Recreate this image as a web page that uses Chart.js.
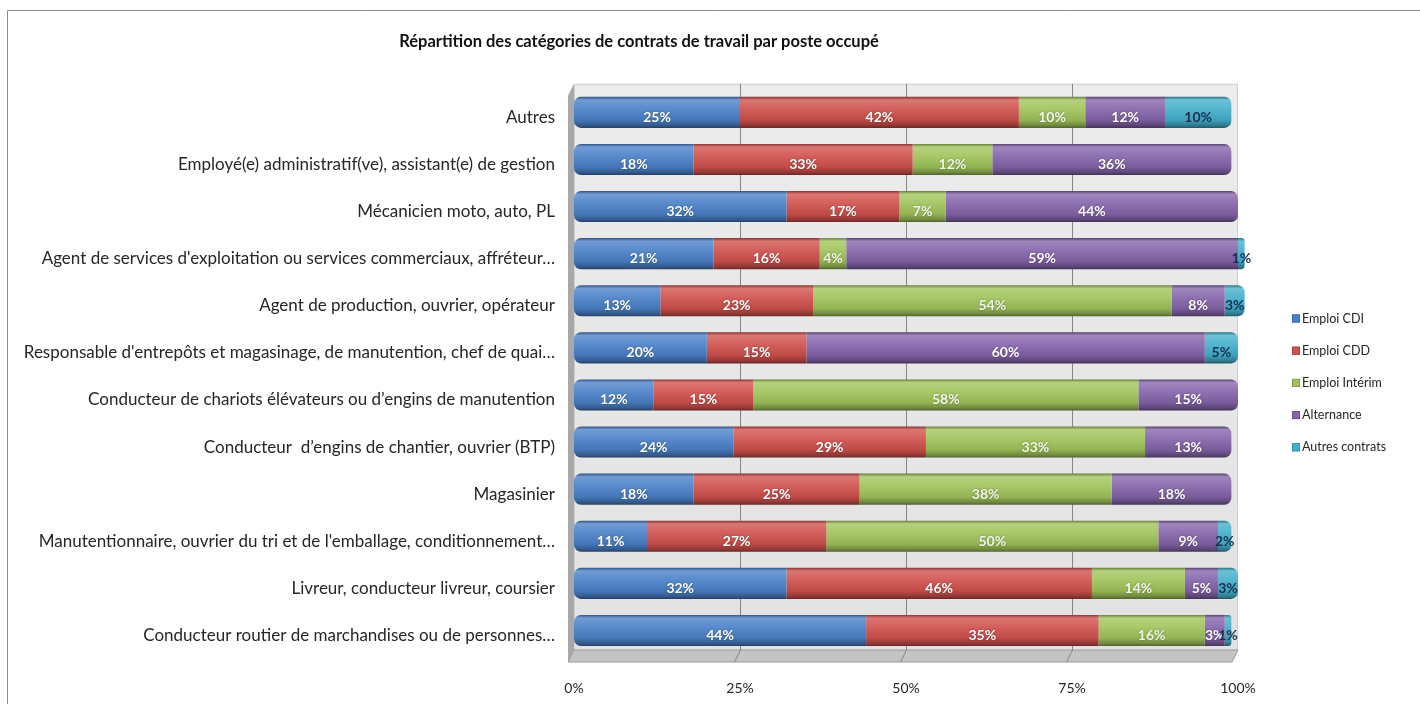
<!DOCTYPE html>
<html lang="fr">
<head>
<meta charset="utf-8">
<title>Répartition des catégories de contrats de travail par poste occupé</title>
<script src="https://cdn.jsdelivr.net/npm/chart.js@4.4.1/dist/chart.umd.min.js"></script>
<style>
  html, body { margin: 0; padding: 0; background: #ffffff; }
  #wrap { position: relative; width: 1420px; height: 704px; }
</style>
</head>
<body>
<div id="wrap"><canvas id="chart" width="1420" height="704"></canvas></div>
<script>
// Postes occupés (du haut vers le bas)
const categories = [
  'Autres',
  'Employé(e) administratif(ve), assistant(e) de gestion',
  'Mécanicien moto, auto, PL',
  "Agent de services d'exploitation ou services commerciaux, affréteur…",
  'Agent de production, ouvrier, opérateur',
  "Responsable d'entrepôts et magasinage, de manutention, chef de quai…",
  'Conducteur de chariots élévateurs ou d’engins de manutention',
  'Conducteur  d’engins de chantier, ouvrier (BTP)',
  'Magasinier',
  "Manutentionnaire, ouvrier du tri et de l'emballage, conditionnement…",
  'Livreur, conducteur livreur, coursier',
  'Conducteur routier de marchandises ou de personnes…'
];

// Part de chaque type de contrat, en %
const seriesNames = ['Emploi CDI', 'Emploi CDD', 'Emploi Intérim', 'Alternance', 'Autres contrats'];
const emploiCDI      = [25, 18, 32, 21, 13, 20, 12, 24, 18, 11, 32, 44];
const emploiCDD      = [42, 33, 17, 16, 23, 15, 15, 29, 25, 27, 46, 35];
const emploiInterim  = [10, 12,  7,  4, 54,  0, 58, 33, 38, 50, 14, 16];
const alternance     = [12, 36, 44, 59,  8, 60, 15, 13, 18,  9,  5,  3];
const autresContrats = [10,  0,  0,  1,  3,  5,  0,  0,  0,  2,  3,  1];
const seriesValues = [emploiCDI, emploiCDD, emploiInterim, alternance, autresContrats];

const xTickValues = [0, 25, 50, 75, 100];

const seriesColors = ['#4a80c8', '#d0504c', '#a0c45a', '#8564ab', '#44afcc'];
const labelColors  = ['#ffffff', '#ffffff', '#f4f8ea', '#ffffff', '#14304f'];

const FONT = 'Lato, "Open Sans", sans-serif';
const BAR_FRACTION = 0.66;

// lighten (amt > 0) or darken (amt < 0) a hex colour
function shade(hex, amt) {
  const n = parseInt(hex.slice(1), 16);
  let r = (n >> 16) & 255, g = (n >> 8) & 255, b = n & 255;
  const f = c => amt >= 0 ? Math.round(c + (255 - c) * amt) : Math.round(c * (1 + amt));
  return `rgb(${f(r)},${f(g)},${f(b)})`;
}

// cylinder-like vertical shading for each bar
function barFill(ctx) {
  const base = seriesColors[ctx.datasetIndex];
  const chart = ctx.chart;
  const ys = chart.scales && chart.scales.y;
  if (!ys || ctx.dataIndex === undefined || !ys.height) return base;
  const cy = ys.getPixelForValue(ctx.dataIndex);
  const half = ys.height / categories.length * BAR_FRACTION / 2;
  const g = chart.ctx.createLinearGradient(0, cy - half, 0, cy + half);
  g.addColorStop(0.00, shade(base, -0.35));
  g.addColorStop(0.10, shade(base, 0.22));
  g.addColorStop(0.35, shade(base, 0.10));
  g.addColorStop(0.75, shade(base, -0.08));
  g.addColorStop(0.92, shade(base, -0.30));
  g.addColorStop(1.00, shade(base, -0.50));
  return g;
}

// round only the outer ends of each stacked row
function barRadius(ctx) {
  const i = ctx.dataIndex, d = ctx.datasetIndex;
  if (i === undefined) return 0;
  const nonZero = seriesValues.map(s => s[i] > 0);
  const first = nonZero.indexOf(true);
  const last = nonZero.lastIndexOf(true);
  const r = 7;
  return {
    topLeft: d === first ? r : 0, bottomLeft: d === first ? r : 0,
    topRight: d === last ? r : 0, bottomRight: d === last ? r : 0
  };
}

// let the long category labels run into the left margin
const wideLabels = {
  id: 'wideLabels',
  afterLayout(chart) {
    chart.scales.y.left = 0;
  }
};

// back wall, side wall, floor and gridlines of the plot box
const plotBox = {
  id: 'plotBox',
  beforeDraw(chart) {
    const { ctx, chartArea: a, scales: { x } } = chart;
    ctx.save();
    ctx.fillStyle = '#ffffff';
    ctx.fillRect(0, 0, chart.width, chart.height);
    // outer frame
    ctx.strokeStyle = '#8c8c8c';
    ctx.lineWidth = 1;
    ctx.beginPath();
    ctx.moveTo(7.5, chart.height + 5);
    ctx.lineTo(7.5, 10.5);
    ctx.lineTo(chart.width + 5, 10.5);
    ctx.stroke();

    const wt = a.top - 5, wb = a.bottom - 4, dx = 6, dy = 12;
    // back wall
    const wg = ctx.createLinearGradient(0, wt, 0, wb);
    wg.addColorStop(0, '#ececec');
    wg.addColorStop(1, '#e2e2e2');
    ctx.fillStyle = wg;
    ctx.fillRect(a.left, wt, a.right - a.left, wb - wt);
    ctx.strokeStyle = '#d0d0d0';
    ctx.strokeRect(a.left + 0.5, wt + 0.5, a.right - a.left - 1, wb - wt);

    // left side wall
    ctx.fillStyle = '#a8a8a8';
    ctx.beginPath();
    ctx.moveTo(a.left, wt);
    ctx.lineTo(a.left, wb);
    ctx.lineTo(a.left - dx, wb + dy);
    ctx.lineTo(a.left - dx, wt + dy);
    ctx.closePath();
    ctx.fill();

    // floor
    ctx.fillStyle = '#c4c4c4';
    ctx.beginPath();
    ctx.moveTo(a.left, wb);
    ctx.lineTo(a.right, wb);
    ctx.lineTo(a.right - dx, wb + dy);
    ctx.lineTo(a.left - dx, wb + dy);
    ctx.closePath();
    ctx.fill();
    ctx.strokeStyle = '#9a9a9a';
    ctx.stroke();

    // gridlines on wall and floor
    ctx.strokeStyle = '#858585';
    ctx.lineWidth = 1;
    xTickValues.forEach(v => {
      if (v === 0 || v === 100) return;
      const px = Math.round(x.getPixelForValue(v)) + 0.5;
      ctx.beginPath();
      ctx.moveTo(px, wt);
      ctx.lineTo(px, wb);
      ctx.lineTo(px - dx, wb + dy);
      ctx.stroke();
    });
    ctx.restore();
  }
};

// percentage written in the middle of every segment
const segmentLabels = {
  id: 'segmentLabels',
  afterDatasetsDraw(chart) {
    const { ctx } = chart;
    ctx.save();
    ctx.font = `bold 14px ${FONT}`;
    ctx.textAlign = 'center';
    ctx.textBaseline = 'middle';
    chart.data.datasets.forEach((ds, d) => {
      const meta = chart.getDatasetMeta(d);
      meta.data.forEach((el, i) => {
        const v = ds.data[i];
        if (!v) return;
        const p = el.getProps(['x', 'y', 'base'], true);
        const cx = (p.x + p.base) / 2;
        if (d < 4) {
          ctx.shadowColor = 'rgba(0,0,0,0.35)';
          ctx.shadowBlur = 2;
        } else {
          ctx.shadowColor = 'transparent';
          ctx.shadowBlur = 0;
        }
        ctx.fillStyle = labelColors[d];
        ctx.fillText(v + '%', cx, p.y + 5);
      });
    });
    ctx.restore();
  }
};

// legend column on the right
const sideLegend = {
  id: 'sideLegend',
  afterDraw(chart) {
    const { ctx, chartArea: a } = chart;
    const x0 = a.right + 54;
    const step = 32.2;
    const mid = (a.top + a.bottom) / 2 + 11.5;
    const y0 = mid - step * (seriesNames.length - 1) / 2;
    ctx.save();
    ctx.font = `12.5px ${FONT}`;
    ctx.textBaseline = 'middle';
    ctx.textAlign = 'left';
    seriesNames.forEach((name, k) => {
      const y = y0 + k * step;
      ctx.fillStyle = seriesColors[k];
      ctx.fillRect(x0, y - 4, 8, 8);
      ctx.strokeStyle = shade(seriesColors[k], -0.3);
      ctx.lineWidth = 0.6;
      ctx.strokeRect(x0 + 0.3, y - 3.7, 7.4, 7.4);
      ctx.fillStyle = '#262626';
      ctx.fillText(name, x0 + 10, y);
    });
    ctx.restore();
  }
};

new Chart(document.getElementById('chart'), {
  type: 'bar',
  data: {
    labels: categories,
    datasets: seriesNames.map((name, d) => ({
      label: name,
      data: seriesValues[d],
      backgroundColor: barFill,
      borderRadius: barRadius,
      borderSkipped: false,
      borderWidth: 0,
      categoryPercentage: 1,
      barPercentage: BAR_FRACTION,
      clip: false
    }))
  },
  options: {
    indexAxis: 'y',
    responsive: false,
    animation: false,
    devicePixelRatio: 1,
    layout: { padding: { left: 40, right: 182, top: 0, bottom: 0 } },
    scales: {
      x: {
        stacked: true,
        min: 0,
        max: 100,
        afterBuildTicks: s => { s.ticks = xTickValues.map(v => ({ value: v })); },
        afterFit: s => { s.height = 50; },
        grid: { display: false, drawTicks: false },
        border: { display: false },
        ticks: {
          padding: 26,
          color: '#262626',
          font: { family: FONT, size: 14 },
          callback: v => v + '%'
        }
      },
      y: {
        stacked: true,
        afterFit: s => { s.width = 534; },
        grid: { display: false, drawTicks: false },
        border: { display: false },
        ticks: {
          padding: 19,
          labelOffset: 5,
          color: '#262626',
          font: { family: FONT, size: 17 },
          autoSkip: false
        }
      }
    },
    plugins: {
      legend: { display: false },
      tooltip: { enabled: false },
      title: {
        display: true,
        text: 'Répartition des catégories de contrats de travail par poste occupé',
        color: '#111111',
        font: { family: FONT, size: 16.5, weight: 'bold', lineHeight: 1.2 },
        padding: { top: 32, bottom: 37 }
      }
    }
  },
  plugins: [wideLabels, plotBox, segmentLabels, sideLegend]
});
</script>
</body>
</html>
